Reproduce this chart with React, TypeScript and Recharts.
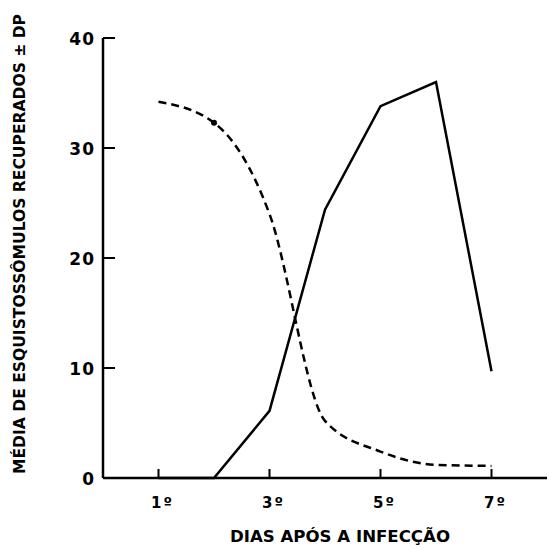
import React from 'react';
import { LineChart, Line, XAxis, YAxis, Label } from 'recharts';

const days = [1, 2, 3, 4, 5, 6, 7];
const solidSeries = [0, 0, 6.1, 24.4, 33.8, 36, 9.7];
const dashedSeries = [34.2, 32.3, 24, 5.2, 2.4, 1.2, 1.1];
const xTicks = [1, 3, 5, 7];
const xTickLabels = ['1º', '3º', '5º', '7º'];
const yTicks = [0, 10, 20, 30, 40];
const xTitle = 'DIAS APÓS A INFECÇÃO';
const yTitle = 'MÉDIA DE ESQUISTOSSÔMULOS RECUPERADOS ± DP';

const data = days.map((d, i) => ({ day: d, solid: solidSeries[i], dashed: dashedSeries[i] }));

const FONT = '"DejaVu Sans", "Liberation Sans", Arial, sans-serif';

const YTick = (props: any) => {
  const { x, y, payload } = props;
  const axisX = x + 8;
  return (
    <g>
      {payload.value > 0 && (
        <line x1={axisX} y1={y} x2={axisX + 12} y2={y} stroke="#000" strokeWidth={2} />
      )}
      <text x={x} y={y + 1} textAnchor="end" dominantBaseline="central" fontFamily={FONT} fontWeight="bold" fontSize={17} letterSpacing={1} fill="#000">
        {payload.value}
      </text>
    </g>
  );
};

const XTick = (props: any) => {
  const { x, y, payload } = props;
  const axisY = y;
  const idx = xTicks.indexOf(payload.value);
  return (
    <g>
      <line x1={x} y1={axisY} x2={x} y2={axisY - 9} stroke="#000" strokeWidth={2} />
      <text x={x + 4} y={axisY + 30} textAnchor="middle" fontFamily={FONT} fontWeight="bold" fontSize={15} letterSpacing={2} fill="#000">
        {idx >= 0 ? xTickLabels[idx] : payload.value}
      </text>
    </g>
  );
};

const DashedDot = (props: any) => {
  const { cx, cy, index } = props;
  if (index === 1) return <circle key={index} cx={cx} cy={cy} r={3} fill="#000" />;
  return <g key={index} />;
};

export default function App() {
  return (
    <div style={{ position: 'absolute', left: 0, top: 0, width: 549, height: 549, background: '#fff' }}>
      <LineChart width={549} height={549} data={data} margin={{ top: 38, right: 2, bottom: 0, left: 0 }}>
        <XAxis
          dataKey="day"
          type="number"
          domain={[0, 8]}
          ticks={xTicks}
          tickSize={0}
          tickMargin={0}
          tick={<XTick />}
          axisLine={{ stroke: '#000', strokeWidth: 2.5 }}
          height={71}
        >
          <Label
            content={() => (
              <text
                x={340}
                y={542}
                textAnchor="middle"
                fontFamily={FONT}
                fontWeight="bold"
                fontSize={16.5}
                textLength={220}
                lengthAdjust="spacingAndGlyphs"
                fill="#000"
              >
                {xTitle}
              </text>
            )}
          />
        </XAxis>
        <YAxis
          type="number"
          domain={[0, 40]}
          ticks={yTicks}
          tickSize={0}
          tickMargin={8}
          tick={<YTick />}
          axisLine={{ stroke: '#000', strokeWidth: 2.5 }}
          width={103}
        >
          <Label
            content={() => (
              <text
                x={25}
                y={244}
                transform="rotate(-90 25 244)"
                textAnchor="middle"
                fontFamily={FONT}
                fontWeight="bold"
                fontSize={15.5}
                textLength={460}
                lengthAdjust="spacingAndGlyphs"
                fill="#000"
              >
                {yTitle}
              </text>
            )}
          />
        </YAxis>
        <Line type="linear" dataKey="solid" stroke="#000" strokeWidth={2.5} dot={false} isAnimationActive={false} />
        <Line
          type="monotone"
          dataKey="dashed"
          stroke="#000"
          strokeWidth={2.5}
          strokeDasharray="8 5"
          dot={<DashedDot />}
          isAnimationActive={false}
        />
      </LineChart>
    </div>
  );
}
